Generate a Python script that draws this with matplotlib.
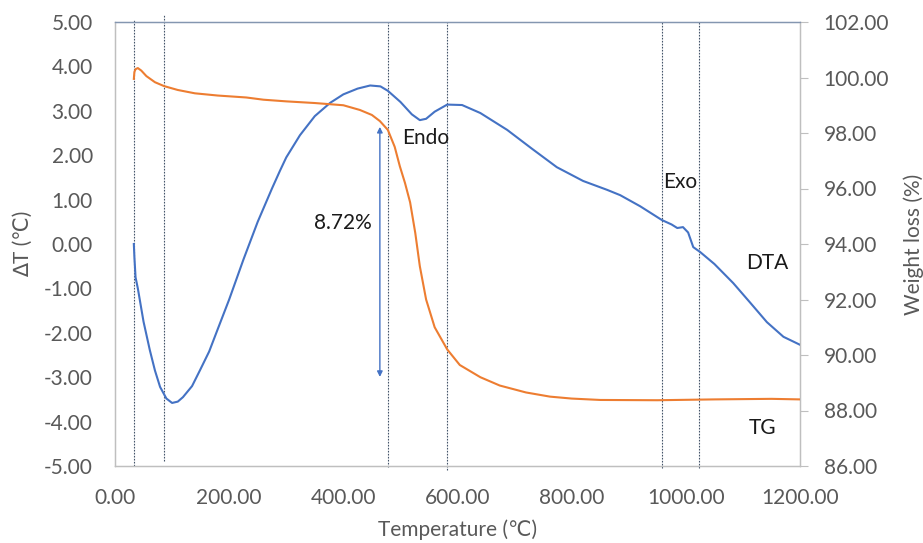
import matplotlib
matplotlib.use("Agg")
import matplotlib.pyplot as plt

# DTA curve: temperature (°C) vs ΔT (°C)
dta_temp = [33, 34, 36, 40, 44, 50, 61, 70, 79, 90, 100, 110, 119, 135, 149, 165, 179,
            200, 225, 250, 275, 289, 300, 324, 350, 377, 400, 425, 447, 465, 478, 500,
            520, 534, 545, 560, 582, 608, 640, 687, 730, 774, 820, 862, 885, 920, 958,
            975, 985, 995, 1004, 1013, 1025, 1050, 1083, 1112, 1142, 1171, 1200]
dta_val = [0.0, -0.3, -0.75, -1.0, -1.3, -1.75, -2.39, -2.85, -3.22, -3.48, -3.58, -3.55,
           -3.45, -3.2, -2.84, -2.42, -1.95, -1.25, -0.35, 0.5, 1.25, 1.65, 1.95, 2.45, 2.88,
           3.18, 3.37, 3.5, 3.57, 3.55, 3.45, 3.2, 2.92, 2.79, 2.82, 2.98, 3.14, 3.13, 2.95,
           2.57, 2.15, 1.73, 1.42, 1.22, 1.1, 0.85, 0.54, 0.44, 0.36, 0.38, 0.26, -0.07,
           -0.18, -0.45, -0.88, -1.31, -1.76, -2.09, -2.27]

# TG curve: temperature (°C) vs residual weight (%)
tg_temp = [33, 34, 36, 40, 46, 55, 70, 86, 110, 140, 180, 230, 260, 300, 350, 400, 429,
           450, 464, 478, 490, 499, 508, 517, 526, 534, 545, 560, 582, 604, 640, 674, 720,
           762, 800, 850, 950, 1050, 1150, 1200]
tg_val = [99.95, 100.2, 100.3, 100.34, 100.25, 100.05, 99.83, 99.69, 99.55, 99.43, 99.35,
          99.28, 99.2, 99.14, 99.08, 99.0, 98.83, 98.65, 98.43, 98.11, 97.5, 96.8, 96.2,
          95.5, 94.4, 93.2, 92.0, 91.0, 90.2, 89.64, 89.2, 88.9, 88.65, 88.5, 88.43, 88.38,
          88.37, 88.4, 88.42, 88.4]

# Event markers (°C)
event_temps = [33, 86, 478, 582, 958, 1023]
event_spans = [(-5.0, 5.07), (-4.89, 5.18), (-5.02, 5.0), (-5.09, 5.0), (-5.05, 5.0), (-5.05, 5.0)]

# Mass-loss bracket
loss_temp = 464
loss_top, loss_bottom = 98.22, 89.21
loss_label = "8.72%"

x_ticks = [0, 200, 400, 600, 800, 1000, 1200]
y_left_ticks = [-5, -4, -3, -2, -1, 0, 1, 2, 3, 4, 5]
y_right_ticks = [86, 88, 90, 92, 94, 96, 98, 100, 102]

BLUE = "#4472C4"
ORANGE = "#ED7D31"
GREY_TXT = "#595959"
SPINE = "#BFBFBF"

plt.rcParams["font.family"] = ["Lato", "DejaVu Sans"]

fig = plt.figure(figsize=(9.23, 5.43), dpi=100)
ax = fig.add_axes([115 / 923, 1 - 466 / 543, 685 / 923, 444 / 543])
ax2 = ax.twinx()

ax.set_xlim(0, 1200)
ax.set_ylim(-5, 5)
ax2.set_ylim(86, 102)

for t, (lo, hi) in zip(event_temps, event_spans):
    ax.plot([t, t], [lo, hi], color="#44546A", lw=0.8, ls=(0, (1.5, 1.2)),
            clip_on=False, zorder=1)

ax.plot(dta_temp, dta_val, color=BLUE, lw=1.5, zorder=3)
ax2.plot(tg_temp, tg_val, color=ORANGE, lw=1.5, zorder=3)

ax2.annotate("", xy=(loss_temp, loss_top), xytext=(loss_temp, loss_bottom),
             arrowprops=dict(arrowstyle="<|-|>", color=BLUE, lw=1.0,
                             mutation_scale=8, shrinkA=0, shrinkB=0))

txt_kw = dict(fontsize=15, color="#1a1a1a", ha="center", va="center")
ax.text(399, 0.47, loss_label, **txt_kw)
ax.text(545, 2.39, "Endo", **txt_kw)
ax.text(990, 1.40, "Exo", **txt_kw)
ax.text(1142, -0.43, "DTA", **txt_kw)
ax.text(1134, -4.14, "TG", **txt_kw)

ax.set_xticks(x_ticks)
ax.set_xticklabels([f"{v:.2f}" for v in x_ticks])
ax.set_yticks(y_left_ticks)
ax.set_yticklabels([f"{v:.2f}" for v in y_left_ticks])
ax2.set_yticks(y_right_ticks)
ax2.set_yticklabels([f"{v:.2f}" for v in y_right_ticks])

ax.tick_params(axis="x", length=0, pad=16, labelsize=15, labelcolor=GREY_TXT)
ax.tick_params(axis="y", length=0, pad=16, labelsize=15, labelcolor=GREY_TXT)
ax2.tick_params(axis="y", length=6, width=0.8, color=SPINE, direction="out",
                pad=11, labelsize=15, labelcolor=GREY_TXT)

for a in (ax, ax2):
    for side in ("left", "bottom", "right"):
        a.spines[side].set_color(SPINE)
        a.spines[side].set_linewidth(0.9)
    a.spines["top"].set_color("#8496B0")
    a.spines["top"].set_linewidth(0.9)

ax.set_xlabel("Temperature (℃)", fontsize=15, color=GREY_TXT, labelpad=8)
ax.set_ylabel("∆T (℃)", fontsize=15, color=GREY_TXT, labelpad=8)
ax2.set_ylabel("Weight loss (%)", fontsize=15, color=GREY_TXT, labelpad=10)

fig.savefig("out.png", dpi=100)
